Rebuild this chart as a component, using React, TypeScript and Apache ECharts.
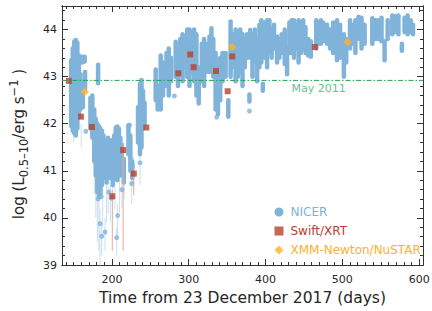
import { useEffect, useRef } from 'react';
import * as echarts from 'echarts';

const FONT = 'DejaVu Sans';
const NICER_COLOR = '#80b3da';
const NICER_ERR_COLOR = 'rgba(165,202,232,0.6)';
const SWIFT_COLOR = '#b7412b';
const SWIFT_ERR_COLOR = '#eaa99d';
const XMM_COLOR = '#fdb12b';
const MAY_COLOR = '#1fa64c';
const MAY_TEXT_COLOR = '#36b06c';
const AXIS_COLOR = '#333333';
const TEXT_COLOR = '#262626';

const X_RANGE = [135, 605];
const Y_RANGE = [39, 44.5];
const X_MAJOR = [200, 300, 400, 500, 600];
const Y_MAJOR = [39, 40, 41, 42, 43, 44];
const X_MINOR: number[] = [];
for (let v = 140; v <= 600; v += 10) X_MINOR.push(v);
const Y_MINOR: number[] = [];
for (let k = 196; k <= 222; k++) Y_MINOR.push(Math.round(k * 2) / 10);

const X_TITLE = 'Time from 23 December 2017 (days)';
const LEGEND_NAMES = ['NICER', 'Swift/XRT', 'XMM-Newton/NuSTAR'];
const MAY_2011_LEVEL = 42.92;
const MAY_2011_LABEL_DAY = 469;
const MAY_2011_TEXT = 'May 2011';

// NICER: dense groups of observations, [day, lowest, highest]
const NICER_RUNS: [number, number, number][] = [
  [147, 41.95, 43.35], [149, 41.85, 43.6], [151, 41.8, 43.75], [153, 41.75, 43.78],
  [155, 41.9, 43.72], [157, 42.15, 43.45], [159, 42.3, 43.05], [161.5, 43.3, 43.42],
  [164.5, 43.32, 43.42], [162, 42.35, 42.9], [165, 42.75, 43.1],
  [172, 41.9, 42.55], [174.5, 41.7, 42.6], [182, 42.86, 43.25],
  [177, 41.2, 42.3], [179, 40.9, 42.1], [181, 40.55, 42.0], [183, 40.45, 41.95],
  [185, 40.5, 41.9], [187, 40.7, 41.85], [189, 40.85, 41.75], [191, 40.9, 41.65],
  [193, 40.75, 41.6], [195, 40.95, 41.7], [197, 40.85, 41.55], [199, 40.95, 41.65],
  [201, 40.7, 41.4], [203, 40.85, 41.75], [205, 40.95, 41.92], [207, 40.8, 41.94],
  [209, 41.1, 41.9], [211, 40.9, 41.7], [213, 41.05, 41.55], [215.5, 40.75, 41.25],
  [221.5, 41.35, 41.97], [224, 41.0, 41.75], [226.5, 40.85, 41.2],
  [234, 41.6, 42.35], [236.5, 41.35, 42.85], [238.5, 41.5, 42.93], [240.5, 41.9, 42.7],
  [242.5, 42.0, 42.45],
  [257, 42.5, 43.15], [259.5, 42.3, 42.8], [263.5, 42.3, 43.45], [266.5, 42.6, 43.3],
  [271, 42.8, 43.5], [274, 42.6, 43.6], [277, 42.9, 43.4], [283, 43.0, 43.74],
  [286, 42.8, 43.6], [289, 43.1, 43.8], [292, 42.9, 43.9], [295, 43.2, 43.85],
  [298, 43.0, 44.0], [301, 42.8, 44.0], [304, 43.1, 43.95], [307, 42.9, 44.0],
  [310, 42.6, 43.9], [313, 42.43, 43.2], [317, 42.9, 43.7], [320, 42.8, 43.8],
  [323, 43.1, 43.7], [327, 43.1, 43.85], [329.5, 43.2, 44.03], [332, 43.0, 43.8],
  [335, 42.3, 43.5], [338, 42.2, 43.3], [341, 42.5, 43.4], [344, 42.9, 43.5],
  [348, 43.0, 43.5], [351.5, 42.15, 42.5], [354.5, 43.0, 44.17], [357, 43.2, 43.9],
  [361, 42.9, 44.0], [364, 43.0, 43.95], [367, 43.1, 44.0], [370, 42.8, 43.9],
  [373, 43.2, 43.8], [376, 43.4, 43.9], [379, 42.47, 42.62], [380, 43.4, 43.99],
  [383, 43.0, 43.9], [386, 43.3, 44.0], [389, 42.9, 43.8], [392, 43.2, 44.1],
  [394.5, 43.3, 44.2], [396.5, 42.7, 42.85], [399, 43.4, 44.15], [402, 43.2, 44.2],
  [405, 43.5, 44.2], [408, 43.4, 44.0], [411, 43.6, 44.1], [415, 43.3, 43.85],
  [418, 43.4, 43.8], [421, 43.5, 43.9], [425, 43.27, 44.0], [428, 43.05, 43.6],
  [431, 43.5, 44.15], [434, 43.5, 44.2], [437, 43.4, 44.2], [440, 43.6, 44.1],
  [443, 43.3, 44.2], [446, 43.5, 44.15], [449, 43.6, 44.2], [452, 43.5, 44.05],
  [455.5, 43.45, 43.8], [459, 43.42, 43.75], [466, 43.6, 44.2], [469, 43.7, 44.15],
  [472, 43.7, 44.2], [475, 43.75, 44.15], [480, 43.7, 44.1], [484, 43.6, 44.0],
  [488, 43.5, 44.15], [493, 43.35, 44.2], [497, 43.4, 44.1], [502, 43.0, 43.9],
  [505, 43.3, 43.8], [510, 43.6, 44.2], [513, 43.7, 44.1], [517, 43.5, 44.2],
  [521, 43.8, 44.27], [525, 43.6, 44.25], [529, 43.7, 44.1], [539, 43.7, 44.24],
  [543, 43.8, 44.2], [547, 43.8, 44.2], [551, 43.75, 44.25], [555, 43.35, 43.75],
  [559, 43.8, 44.2], [565, 43.9, 44.3], [569, 43.95, 44.28], [573, 43.9, 44.3],
  [577.5, 43.55, 43.7], [581, 43.95, 44.25], [585, 43.9, 44.3], [589, 43.95, 44.2],
  [592, 43.9, 44.1],
];

// NICER isolated points [day, log L]
const NICER_POINTS: [number, number][] = [
  [166, 41.84], [184.5, 39.88], [186.7, 39.61], [191, 39.7], [207.5, 40.05],
  [206.2, 39.58], [225.7, 40.73], [236.6, 41.17], [281.3, 42.59], [336.4, 42.14],
  [379, 42.27], [182, 40.4], [186, 40.45], [199.5, 40.42], [213, 40.6], [196, 40.55],
  [227, 41.1], [223, 41.97],
];

// NICER faint error bars [day, low, high]
const NICER_ERRS: [number, number, number][] = [
  [177, 40.5, 41.5], [179, 40.0, 41.0], [181, 39.5, 40.5], [183, 39.3, 40.4],
  [184.5, 38.95, 40.2], [186.7, 39.2, 39.9], [188, 39.8, 40.8], [191, 39.3, 40.0],
  [193, 39.9, 40.8], [195, 40.1, 41.0], [198, 39.9, 40.7], [201, 40.0, 40.8],
  [204, 40.2, 41.0], [206.2, 39.2, 39.8], [207.5, 39.6, 40.3], [210, 40.1, 40.9],
  [213, 40.2, 40.9], [216, 40.4, 41.0], [225.7, 40.3, 41.0], [228, 40.6, 41.3],
  [236.6, 40.7, 41.4], [160, 41.5, 42.0], [150, 41.6, 41.9],
];

const SWIFT: [number, number][] = [
  [144, 42.91], [159.7, 42.15], [174, 41.93], [200.5, 40.46], [214.6, 41.44],
  [228.5, 40.94], [244.8, 41.92], [286.5, 43.07], [302, 43.47], [306.4, 43.2],
  [335.5, 43.12], [350.7, 42.69], [356.6, 43.43], [464.2, 43.63],
];
const SWIFT_ERRS: [number, number, number][] = [
  [200.5, 39.3, 40.6], [214.6, 39.3, 41.6], [228.5, 40.48, 41.05],
];
const XMM: [number, number][] = [
  [164.5, 42.68], [356.6, 43.63], [507, 43.73],
];

function segRender(width: number, color: string, cap: 'round' | 'butt') {
  return (_params: any, api: any) => {
    const x = api.value(0);
    const p1 = api.coord([x, api.value(1)]);
    const p2 = api.coord([x, api.value(2)]);
    return {
      type: 'line',
      shape: { x1: p1[0], y1: p1[1], x2: p2[0], y2: p2[1] },
      style: { stroke: color, lineWidth: width, lineCap: cap, fill: null },
    };
  };
}

const axisLine = { show: true, onZero: false, lineStyle: { color: AXIS_COLOR, width: 1 } };
const xBase = { type: 'value', min: X_RANGE[0], max: X_RANGE[1], splitLine: { show: false }, axisLine };
const yBase = { type: 'value', min: Y_RANGE[0], max: Y_RANGE[1], splitLine: { show: false }, axisLine };
const tick = (vals: number[], len: number) => ({
  show: true, inside: true, length: len, customValues: vals, lineStyle: { color: AXIS_COLOR, width: 1 },
});
const labelStyle = { fontFamily: FONT, fontSize: 11, color: TEXT_COLOR };

export default function App() {
  const ref = useRef<HTMLDivElement>(null);
  useEffect(() => {
    const chart = echarts.init(ref.current!, null, { renderer: 'svg' });
    const option: any = {
      animation: false,
      backgroundColor: '#ffffff',
      grid: { left: 62, right: 9, top: 6, bottom: 46, outerBoundsMode: 'none' },
      xAxis: [
        {
          ...xBase, position: 'bottom', axisTick: tick(X_MAJOR, 6),
          axisLabel: { show: true, customValues: X_MAJOR, margin: 9, ...labelStyle },
          name: X_TITLE, nameLocation: 'middle', nameGap: 23,
          nameTextStyle: { fontFamily: FONT, fontSize: 15.5, color: TEXT_COLOR },
        },
        { ...xBase, position: 'bottom', axisTick: tick(X_MINOR, 3), axisLabel: { show: false } },
        { ...xBase, position: 'top', axisTick: tick(X_MAJOR, 6), axisLabel: { show: false } },
        { ...xBase, position: 'top', axisTick: tick(X_MINOR, 3), axisLabel: { show: false } },
      ],
      yAxis: [
        {
          ...yBase, position: 'left', axisTick: tick(Y_MAJOR, 6),
          axisLabel: { show: true, customValues: Y_MAJOR, margin: 5, ...labelStyle },
        },
        { ...yBase, position: 'left', axisTick: tick(Y_MINOR, 3), axisLabel: { show: false } },
        { ...yBase, position: 'right', axisTick: tick(Y_MAJOR, 6), axisLabel: { show: false } },
        { ...yBase, position: 'right', axisTick: tick(Y_MINOR, 3), axisLabel: { show: false } },
      ],
      legend: {
        orient: 'vertical', left: 274.5, top: 206, padding: 0,
        itemWidth: 9, itemHeight: 9, itemGap: 7, selectedMode: false,
        textStyle: { fontFamily: FONT, fontSize: 12, padding: [0, 0, 0, 2] },
        data: [
          { name: LEGEND_NAMES[0], icon: 'circle', itemStyle: { color: NICER_COLOR }, textStyle: { color: NICER_COLOR } },
          { name: LEGEND_NAMES[1], icon: 'rect', itemStyle: { color: SWIFT_COLOR }, textStyle: { color: SWIFT_COLOR } },
          { name: LEGEND_NAMES[2], icon: 'diamond', itemStyle: { color: XMM_COLOR }, textStyle: { color: XMM_COLOR } },
        ],
      },
      graphic: [
        {
          type: 'text', x: 19, y: 144, rotation: Math.PI / 2,
          style: {
            text: '{m|log (L}{s|0.5–10}{m|/erg s}{p|−1}{m| )}',
            align: 'center', verticalAlign: 'middle', fill: TEXT_COLOR,
            rich: {
              m: { fontFamily: FONT, fontSize: 15, lineHeight: 22, fill: TEXT_COLOR, color: TEXT_COLOR },
              s: { fontFamily: FONT, fontSize: 11.5, lineHeight: 14, verticalAlign: 'bottom', color: TEXT_COLOR },
              p: { fontFamily: FONT, fontSize: 11.5, lineHeight: 14, verticalAlign: 'top', color: TEXT_COLOR },
            },
          },
        },
      ],
      series: [
        {
          type: 'custom', name: '_nicerErr', silent: true, data: NICER_ERRS,
          encode: { x: 0, y: [1, 2] }, renderItem: segRender(1, NICER_ERR_COLOR, 'butt'),
        },
        {
          type: 'custom', name: LEGEND_NAMES[0], silent: true, data: NICER_RUNS,
          itemStyle: { color: NICER_COLOR },
          encode: { x: 0, y: [1, 2] }, renderItem: segRender(4.5, NICER_COLOR, 'round'),
        },
        {
          type: 'scatter', name: LEGEND_NAMES[0], silent: true, data: NICER_POINTS,
          symbol: 'circle', symbolSize: 5, itemStyle: { color: NICER_COLOR },
        },
        {
          type: 'line', name: '_may', silent: true, symbol: 'none',
          data: [[X_RANGE[0], MAY_2011_LEVEL], [X_RANGE[1], MAY_2011_LEVEL]],
          lineStyle: { color: MAY_COLOR, width: 1, type: [5, 2, 1.5, 2] },
        },
        {
          type: 'scatter', name: '_mayLabel', silent: true, symbolSize: 0,
          data: [[MAY_2011_LABEL_DAY, MAY_2011_LEVEL]],
          label: {
            show: true, position: 'bottom', distance: 3, formatter: MAY_2011_TEXT,
            fontFamily: FONT, fontSize: 11, color: MAY_TEXT_COLOR,
          },
        },
        {
          type: 'custom', name: '_swiftErr', silent: true, data: SWIFT_ERRS,
          encode: { x: 0, y: [1, 2] }, renderItem: segRender(1, SWIFT_ERR_COLOR, 'butt'),
        },
        {
          type: 'scatter', name: LEGEND_NAMES[1], silent: true, data: SWIFT,
          symbol: 'rect', symbolSize: 6, itemStyle: { color: SWIFT_COLOR },
        },
        {
          type: 'scatter', name: LEGEND_NAMES[2], silent: true, data: XMM,
          symbol: 'diamond', symbolSize: 8.5, itemStyle: { color: XMM_COLOR },
        },
      ],
    };
    chart.setOption(option);
    return () => chart.dispose();
  }, []);
  return (
    <div
      ref={ref}
      style={{ position: 'fixed', left: 0, top: 0, width: 432, height: 311 }}
    />
  );
}
